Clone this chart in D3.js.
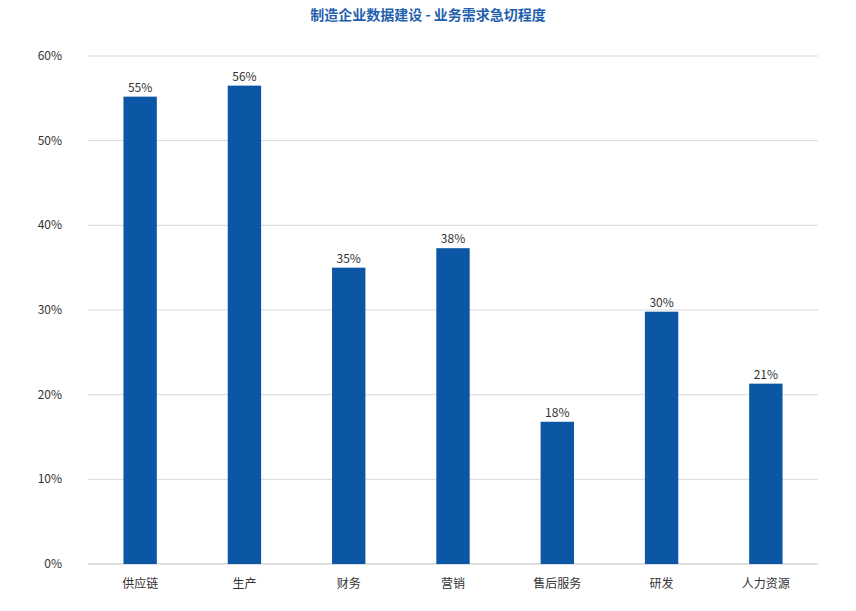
<!DOCTYPE html>
<html><head><meta charset="utf-8">
<script src="https://cdn.jsdelivr.net/npm/d3@7/dist/d3.min.js"></script>
<style>body{margin:0;background:#fff;font-family:"Noto Sans CJK SC","Noto Sans",sans-serif}</style>
</head><body><svg id="c" width="856" height="611"></svg>
<script>
const categories=["供应链","生产","财务","营销","售后服务","研发","人力资源"];
const values=[55.2,56.5,35.0,37.3,16.8,29.8,21.3];
const valueLabels=["55%","56%","35%","38%","18%","30%","21%"];
const yTicks=[0,10,20,30,40,50,60];
const title="制造企业数据建设 - 业务需求急切程度";

const svg=d3.select("#c");
const m={l:88,r:818,t:56,b:564};
const x=d3.scaleBand().domain(categories).range([m.l,m.r]).paddingInner(0.68).paddingOuter(0.34);
const y=d3.scaleLinear().domain([0,60]).range([m.b,m.t]);
const blue="#0b57a6";

svg.append("text").attr("x",428).attr("y",20).attr("text-anchor","middle")
 .attr("font-size",14).attr("font-weight","bold").attr("fill","#1f5fae").text(title);

svg.append("g").selectAll("line").data(yTicks).join("line")
 .attr("x1",m.l).attr("x2",m.r).attr("y1",d=>y(d)).attr("y2",d=>y(d))
 .attr("stroke",d=>d===0?"#bfbfbf":"#d9d9d9").attr("stroke-width",1);
svg.append("g").selectAll("text").data(yTicks).join("text")
 .attr("x",62).attr("y",d=>y(d)+4).attr("text-anchor","end").attr("font-size",12).attr("fill","#333")
 .text(d=>d+"%");

svg.append("g").selectAll("rect").data(values).join("rect")
 .attr("x",(d,i)=>x(categories[i])).attr("width",x.bandwidth())
 .attr("y",d=>y(d)).attr("height",d=>y(0)-y(d)).attr("fill",blue);
svg.append("g").selectAll("text").data(values).join("text")
 .attr("x",(d,i)=>x(categories[i])+x.bandwidth()/2).attr("y",d=>y(d)-5)
 .attr("text-anchor","middle").attr("font-size",12).attr("fill","#333").text((d,i)=>valueLabels[i]);
svg.append("g").selectAll("text").data(categories).join("text")
 .attr("x",d=>x(d)+x.bandwidth()/2).attr("y",588).attr("text-anchor","middle")
 .attr("font-size",12).attr("fill","#333").text(d=>d);
</script></body></html>
